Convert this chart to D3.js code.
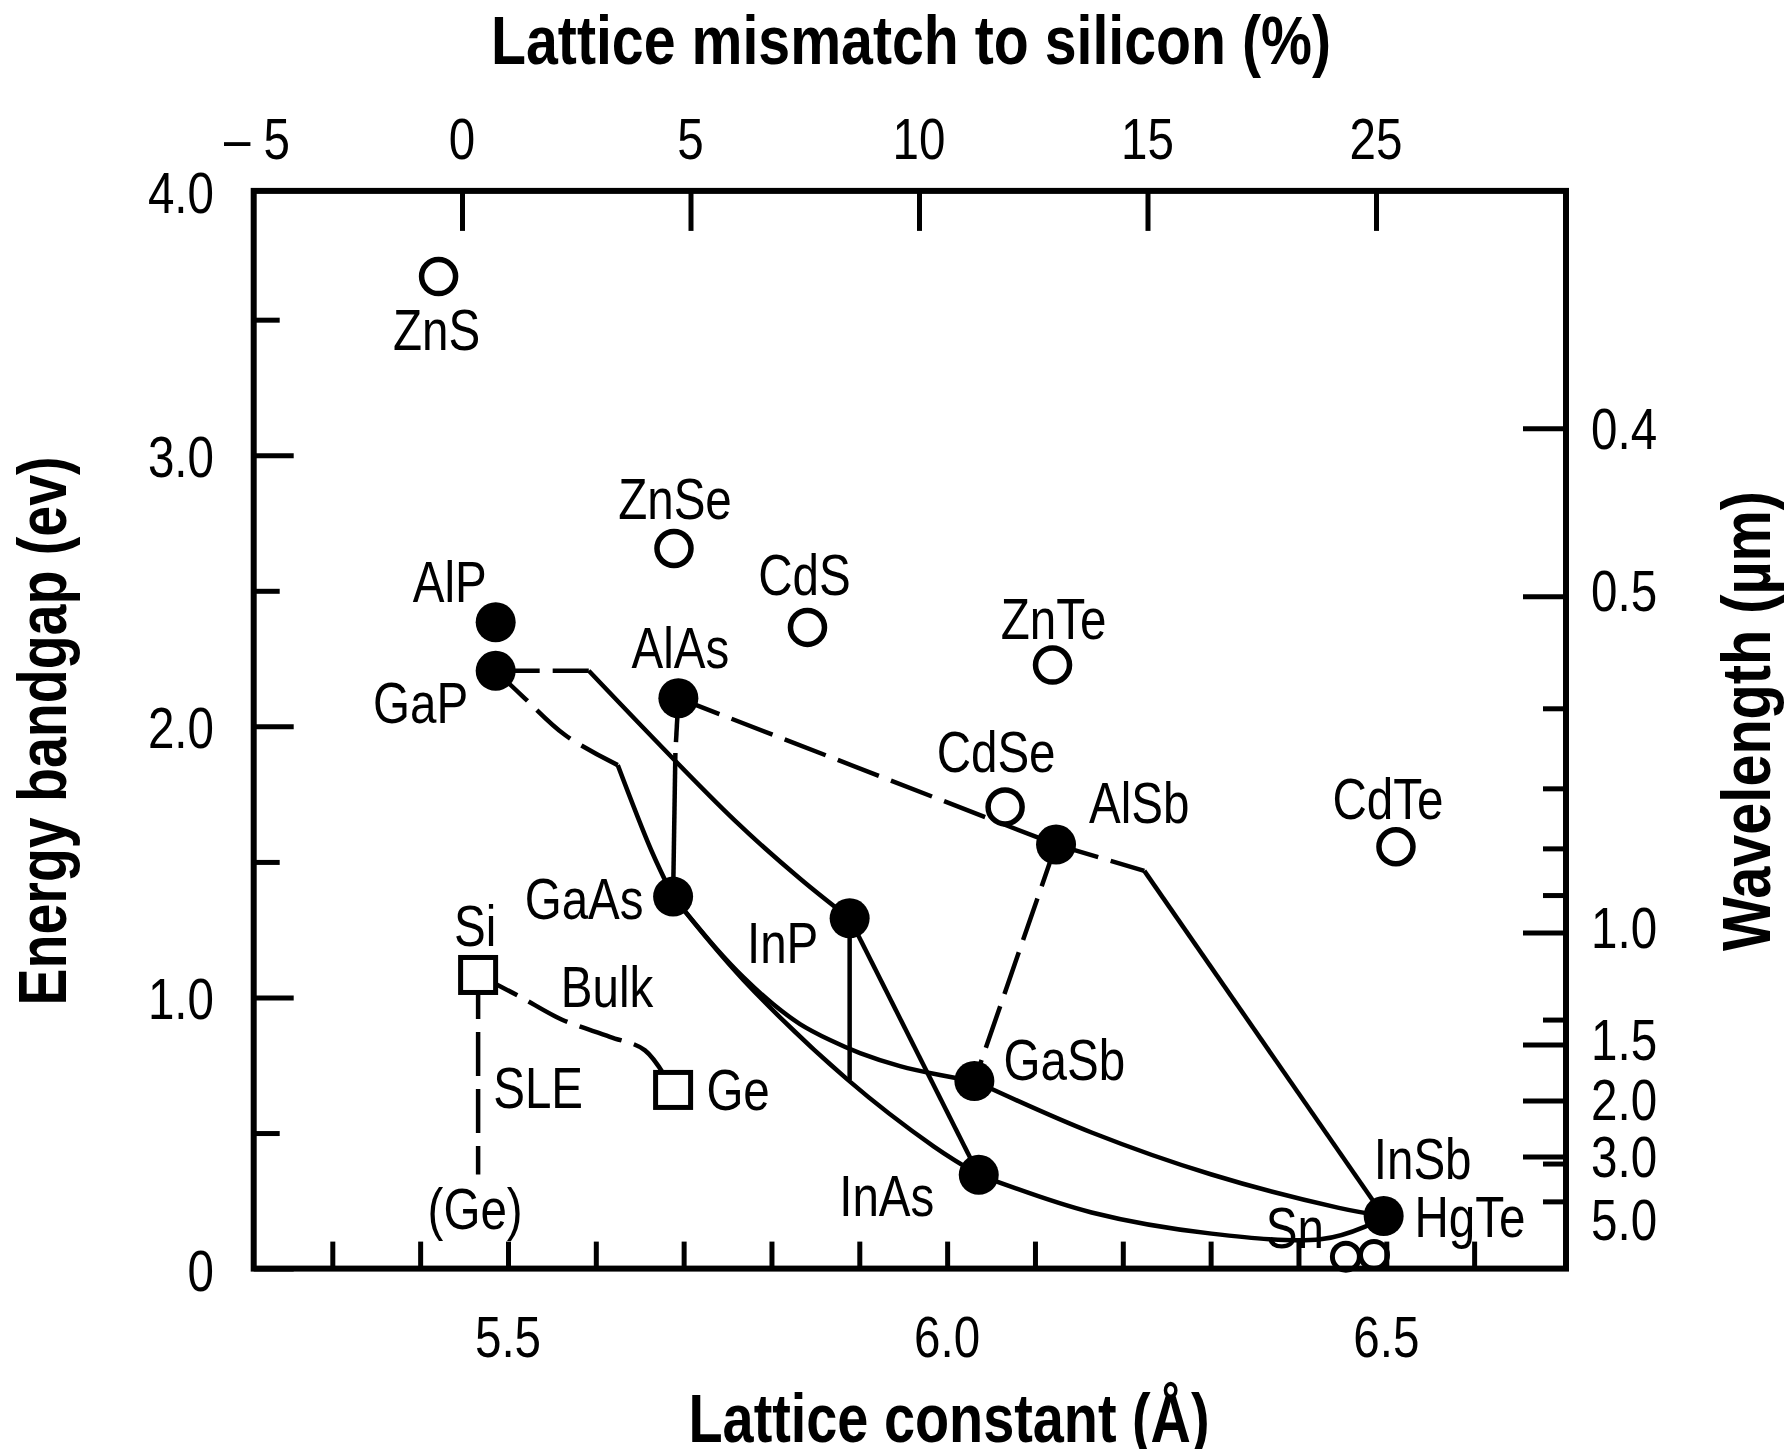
<!DOCTYPE html>
<html>
<head>
<meta charset="utf-8">
<script src="https://cdn.jsdelivr.net/npm/d3@7"></script>
<style>
  html, body { margin: 0; padding: 0; background: #fff; }
  svg { display: block; }
  text { font-family: "Liberation Sans", Arial, sans-serif; fill: #000; }
</style>
</head>
<body>
<svg id="chart" width="1792" height="1449"></svg>
<script>
// ---------------------------------------------------------------------------
// Semiconductor band gap versus lattice constant
// ---------------------------------------------------------------------------

// Binary III-V compounds (filled circles): lattice constant (Å), band gap (eV)
const filledNames   = ["AlP", "GaP", "AlAs", "GaAs", "InP", "AlSb", "GaSb", "InAs", "InSb"];
const filledLattice = [5.486, 5.486, 5.694, 5.688, 5.889, 6.124, 6.031, 6.036, 6.497];
const filledGap     = [2.384, 2.205, 2.104, 1.372, 1.292, 1.564, 0.692, 0.346, 0.194];

// II-VI compounds and grey tin (open circles)
const openNames   = ["ZnS", "ZnSe", "CdS", "ZnTe", "CdSe", "CdTe", "HgTe", "Sn"];
const openLattice = [5.421, 5.689, 5.841, 6.120, 6.066, 6.511, 6.486, 6.454];
const openGap     = [3.659, 2.656, 2.365, 2.226, 1.703, 1.556, 0.050, 0.044];

// Group IV elements (open squares)
const squareNames   = ["Si", "Ge"];
const squareLattice = [5.466, 5.688];
const squareGap     = [1.083, 0.659];

// Alloy paths between end compounds: [lattice constant, band gap]
const gaInPIndirect  = [[5.486, 2.205], [5.592, 2.205]];
const gaInPDirect    = [[5.592, 2.205], [5.7575, 1.655], [5.833, 1.437], [5.889, 1.292]];
const gaAsPIndirect  = [[5.486, 2.205], [5.517, 2.110], [5.565, 1.968], [5.625, 1.857]];
const gaAsPDirect    = [[5.625, 1.857], [5.663, 1.544], [5.688, 1.372]];
const alGaAsIndirect = [[5.694, 2.104], [5.6906, 1.902]];
const alGaAsDirect   = [[5.6906, 1.902], [5.688, 1.372]];
const alAsSb         = [[5.694, 2.104], [6.124, 1.564]];
const alInSbIndirect = [[6.124, 1.564], [6.2245, 1.467]];
const alInSbDirect   = [[6.2245, 1.467], [6.497, 0.194]];
const alGaSb         = [[6.124, 1.564], [6.031, 0.692]];
const gaInAs         = [[5.688, 1.372], [5.768, 1.065], [5.887, 0.696], [5.985, 0.450], [6.036, 0.346]];
const gaAsSb         = [[5.688, 1.372], [5.7376, 1.179], [5.7676, 1.076], [5.8017, 0.976], [5.8325, 0.902],
                        [5.8666, 0.843], [5.9008, 0.795], [5.9463, 0.747], [5.9919, 0.714], [6.031, 0.692]];
const inPMatched     = [[5.889, 1.292], [5.889, 0.696]];
const inPAs          = [[5.889, 1.292], [6.036, 0.346]];
const gaInSb         = [[6.031, 0.692], [6.1645, 0.502], [6.301, 0.347], [6.446, 0.224], [6.497, 0.194]];
const inAsSb         = [[6.036, 0.346], [6.1645, 0.207], [6.301, 0.129], [6.425, 0.108], [6.476, 0.155], [6.497, 0.194]];
const siGeBulk       = [[5.466, 1.083], [5.513, 1.004], [5.561, 0.919], [5.616, 0.855], [5.656, 0.805], [5.688, 0.659]];
const siGeSLE        = [[5.466, 1.083], [5.466, 0.347]];

// Axis ticks
const latticeTicks   = [5.3, 5.4, 5.5, 5.6, 5.7, 5.8, 5.9, 6.0, 6.1, 6.2, 6.3, 6.4, 6.5, 6.6];
const latticeLabels  = [5.5, 6.0, 6.5];
const mismatchLabels = ["– 5", "0", "5", "10", "15", "25"];
const gapMajorTicks  = [0, 1, 2, 3];
const gapMinorTicks  = [0.5, 1.5, 2.5, 3.5];
const gapLabels      = [0, 1, 2, 3, 4];
const wavelengthLong   = [0.4, 0.5, 1.0, 1.5, 2.0, 3.0];
const wavelengthShort  = [0.6, 0.7, 0.8, 0.9, 1.35, 3.2, 5.0];
const wavelengthLabels = [0.4, 0.5, 1.0, 1.5, 2.0, 3.0, 5.0];
const HC = 1.24; // eV·µm, photon energy <-> wavelength

// ---------------------------------------------------------------------------
// Layout
// ---------------------------------------------------------------------------
const plotLeft = 253.7, plotRight = 1566, plotTop = 190.9, plotBottom = 1268.6;
const FS = 58, SX = 0.82;          // label font size and horizontal condensing
const DASH = "44,13";

const x = d3.scaleLinear().domain([5.2105, 6.7046]).range([plotLeft, plotRight]);
const y = d3.scaleLinear().domain([0, 3.975]).range([plotBottom, plotTop]);
const xTop = d3.scalePoint().domain(mismatchLabels).range([233.5, 1376]);

const svg = d3.select("#chart");

function label(g, px, py, str, anchor) {
  return g.append("text")
    .attr("transform", `translate(${px},${py}) scale(${SX},1)`)
    .attr("text-anchor", anchor || "middle")
    .style("font-size", FS + "px")
    .text(str);
}

function title(px, py, str, len, rot) {
  svg.append("text")
    .attr("transform", `translate(${px},${py})` + (rot ? ` rotate(${rot})` : ""))
    .attr("text-anchor", "middle")
    .attr("textLength", len)
    .attr("lengthAdjust", "spacingAndGlyphs")
    .style("font-size", "68px")
    .style("font-weight", "bold")
    .text(str);
}

// ---------------------------------------------------------------------------
// Alloy lines
// ---------------------------------------------------------------------------
const path = curve => d3.line().x(d => x(d[0])).y(d => y(d[1])).curve(curve);
const smooth = d3.curveCatmullRom.alpha(0.5);

const alloyLines = [
  { pts: gaInPIndirect,  dashed: true,  curve: d3.curveLinear },
  { pts: gaInPDirect,    dashed: false, curve: smooth },
  { pts: gaAsPIndirect,  dashed: true,  curve: smooth },
  { pts: gaAsPDirect,    dashed: false, curve: smooth },
  { pts: alGaAsIndirect, dashed: true,  curve: d3.curveLinear },
  { pts: alGaAsDirect,   dashed: false, curve: d3.curveLinear },
  { pts: alAsSb,         dashed: true,  curve: d3.curveLinear },
  { pts: alInSbIndirect, dashed: true,  curve: d3.curveLinear },
  { pts: alInSbDirect,   dashed: false, curve: d3.curveLinear },
  { pts: alGaSb,         dashed: true,  curve: d3.curveLinear },
  { pts: gaInAs,         dashed: false, curve: smooth },
  { pts: gaAsSb,         dashed: false, curve: smooth },
  { pts: inPMatched,     dashed: false, curve: d3.curveLinear },
  { pts: inPAs,          dashed: false, curve: d3.curveLinear },
  { pts: gaInSb,         dashed: false, curve: smooth },
  { pts: inAsSb,         dashed: false, curve: smooth },
  { pts: siGeBulk,       dashed: true,  curve: smooth },
  { pts: siGeSLE,        dashed: true,  curve: d3.curveLinear }
];

const gLines = svg.append("g")
  .attr("fill", "none").attr("stroke", "#000").attr("stroke-width", 4.5);
gLines.selectAll("path").data(alloyLines).join("path")
  .attr("d", d => path(d.curve)(d.pts))
  .attr("stroke-dasharray", d => d.dashed ? DASH : null);

// ---------------------------------------------------------------------------
// Markers
// ---------------------------------------------------------------------------
const openPts   = openNames.map((n, i) => ({ n, a: openLattice[i], e: openGap[i] }));
const filledPts = filledNames.map((n, i) => ({ n, a: filledLattice[i], e: filledGap[i] }));
const squarePts = squareNames.map((n, i) => ({ n, a: squareLattice[i], e: squareGap[i] }));

// the two near-zero-gap circles sit on the axis and are drawn smaller
const smallOpen = new Set(["HgTe", "Sn"]);

svg.append("g").selectAll("circle").data(openPts).join("circle")
  .attr("cx", d => x(d.a)).attr("cy", d => y(d.e))
  .attr("r", d => smallOpen.has(d.n) ? 13.5 : 17)
  .attr("fill", "#fff").attr("stroke", "#000")
  .attr("stroke-width", d => smallOpen.has(d.n) ? 5 : 5.5);

svg.append("g").selectAll("circle").data(filledPts).join("circle")
  .attr("cx", d => x(d.a)).attr("cy", d => y(d.e)).attr("r", 20)
  .attr("fill", "#000");

const SQ = 35;
svg.append("g").selectAll("rect").data(squarePts).join("rect")
  .attr("x", d => x(d.a) - SQ / 2).attr("y", d => y(d.e) - SQ / 2)
  .attr("width", SQ).attr("height", SQ)
  .attr("fill", "#fff").attr("stroke", "#000").attr("stroke-width", 5);

// ---------------------------------------------------------------------------
// Marker labels (offsets from the marker centre: dx, dy to baseline, anchor)
// ---------------------------------------------------------------------------
const labelPlacement = {
  ZnS:  [-2, 73, "middle"],  ZnSe: [1, -30, "middle"],  CdS:  [-3, -32, "middle"],
  ZnTe: [1, -26, "middle"],  CdSe: [-9, -35, "middle"], AlSb: [33, -22, "start"],
  CdTe: [-8, -28, "middle"], AlP:  [-46, -20, "middle"], GaP: [-75, 52, "middle"],
  AlAs: [2, -30, "middle"],  GaAs: [-89, 22, "middle"], InP:  [-67, 45, "middle"],
  GaSb: [90, -1, "middle"],  InAs: [-92, 41, "middle"], InSb: [39, -37, "middle"],
  HgTe: [96, -18, "middle"], Sn:   [-51, -9, "middle"], Si:   [-3, -29, "middle"],
  Ge:   [65, 20, "middle"]
};
const gLabels = svg.append("g");
[...openPts, ...filledPts, ...squarePts].forEach(d => {
  const [dx, dy, anchor] = labelPlacement[d.n];
  label(gLabels, x(d.a) + dx, y(d.e) + dy, d.n, anchor);
});

// Si/Ge growth annotations
const si = squarePts[0];
label(gLabels, x(si.a) + 129, y(si.e) + 32, "Bulk", "middle");
label(gLabels, x(si.a) + 60, y(si.e) + 133, "SLE", "middle");
const sleEnd = siGeSLE[siGeSLE.length - 1];
label(gLabels, x(sleEnd[0]) - 3, y(sleEnd[1]) + 54, "(Ge)", "middle");

// ---------------------------------------------------------------------------
// Axes
// ---------------------------------------------------------------------------
function styleTicks(g) {
  g.select(".domain").remove();
  g.selectAll("line").attr("stroke", "#000").attr("stroke-width", 5);
  g.selectAll("text").remove();
}

// bottom: lattice constant
svg.append("g").attr("transform", `translate(0,${plotBottom})`)
  .call(d3.axisBottom(x).tickValues(latticeTicks).tickSizeInner(-27).tickSizeOuter(0))
  .call(styleTicks);
latticeLabels.forEach(v => label(svg, x(v), 1357, d3.format(".1f")(v), "middle"));

// top: lattice mismatch to silicon
svg.append("g").attr("transform", `translate(0,${plotTop})`)
  .call(d3.axisTop(xTop).tickValues(mismatchLabels.slice(1)).tickSizeInner(-40).tickSizeOuter(0))
  .call(styleTicks);
mismatchLabels.forEach((s, i) => label(svg, xTop(s) + (i === 0 ? 23.5 : 0), 159, s, "middle"));

// left: energy band gap
svg.append("g").attr("transform", `translate(${plotLeft},0)`)
  .call(d3.axisLeft(y).tickValues(gapMajorTicks).tickSizeInner(-40).tickSizeOuter(0))
  .call(styleTicks);
svg.append("g").attr("transform", `translate(${plotLeft},0)`)
  .call(d3.axisLeft(y).tickValues(gapMinorTicks).tickSizeInner(-26).tickSizeOuter(0))
  .call(styleTicks);
gapLabels.forEach(v => {
  const py = Math.max(y(v), plotTop);
  label(svg, 214, py + 22, v === 0 ? "0" : d3.format(".1f")(v), "end");
});

// right: wavelength (labels in the crowded lower part are spread out below their ticks)
svg.append("g").attr("transform", `translate(${plotRight},0)`)
  .call(d3.axisRight(y).tickValues(wavelengthLong.map(l => HC / l)).tickSizeInner(-43).tickSizeOuter(0))
  .call(styleTicks);
svg.append("g").attr("transform", `translate(${plotRight},0)`)
  .call(d3.axisRight(y).tickValues(wavelengthShort.map(l => HC / l)).tickSizeInner(-23).tickSizeOuter(0))
  .call(styleTicks);
const wavelengthLabelDy = [21, 15, 16, 16, 19, 20, 39];
wavelengthLabels.forEach((l, i) =>
  label(svg, 1591, y(HC / l) + wavelengthLabelDy[i], d3.format(".1f")(l), "start"));

// plot frame
svg.append("rect")
  .attr("x", plotLeft).attr("y", plotTop)
  .attr("width", plotRight - plotLeft).attr("height", plotBottom - plotTop)
  .attr("fill", "none").attr("stroke", "#000").attr("stroke-width", 6);

// axis titles
title(911, 64, "Lattice mismatch to silicon (%)", 840);
title(949, 1442, "Lattice constant (Å)", 521);
title(66, 731, "Energy bandgap (ev)", 549, -90);
title(1770, 721, "Wavelength (µm)", 460, -90);
</script>
</body>
</html>
